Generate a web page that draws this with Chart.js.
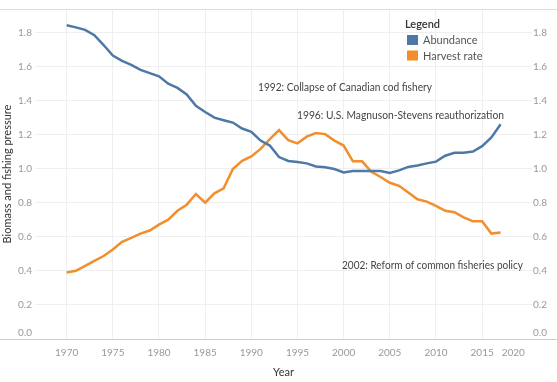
<!DOCTYPE html>
<html>
<head>
<meta charset="utf-8">
<script src="https://cdn.jsdelivr.net/npm/chart.js@4.4.1/dist/chart.umd.min.js"></script>
<style>
  html, body { margin: 0; padding: 0; background: #ffffff; }
  #wrap { width: 557px; height: 382px; position: relative; }
</style>
</head>
<body>
<div id="wrap"><canvas id="c" width="557" height="382"></canvas></div>
<script>
// ---- Data ----
const years = [1970,1971,1972,1973,1974,1975,1976,1977,1978,1979,
               1980,1981,1982,1983,1984,1985,1986,1987,1988,1989,
               1990,1991,1992,1993,1994,1995,1996,1997,1998,1999,
               2000,2001,2002,2003,2004,2005,2006,2007,2008,2009,
               2010,2011,2012,2013,2014,2015,2016,2017];
const abundance = [1.845,1.833,1.818,1.787,1.729,1.667,1.636,1.612,1.583,1.564,
                   1.545,1.502,1.477,1.438,1.372,1.335,1.302,1.287,1.273,1.238,
                   1.219,1.167,1.138,1.070,1.047,1.041,1.033,1.015,1.010,1.000,
                   0.980,0.988,0.988,0.988,0.988,0.977,0.992,1.012,1.021,1.033,
                   1.043,1.078,1.095,1.095,1.103,1.134,1.186,1.263];
const harvestRate = [0.391,0.401,0.430,0.459,0.488,0.527,0.572,0.595,0.620,0.638,
                     0.673,0.702,0.754,0.790,0.853,0.802,0.857,0.886,1.000,1.048,
                     1.074,1.118,1.176,1.229,1.170,1.151,1.190,1.211,1.205,1.167,
                     1.138,1.045,1.045,0.983,0.953,0.919,0.901,0.862,0.822,0.808,
                     0.783,0.754,0.746,0.715,0.692,0.692,0.620,0.626];
const xTickYears = [1970,1975,1980,1985,1990,1995,2000,2005,2010,2015,2020];
const yTickValues = [0,0.2,0.4,0.6,0.8,1.0,1.2,1.4,1.6,1.8];
const seriesNames = ['Abundance','Harvest rate'];
const legendTitle = 'Legend';
const xTitle = 'Year';
const yTitle = 'Biomass and fishing pressure';
const annotations = [
  '1992: Collapse of Canadian cod fishery',
  '1996: U.S. Magnuson-Stevens reauthorization',
  '2002: Reform of common fisheries policy'
];

// ---- Styles ----
const BLUE = '#4e79a7';
const ORANGE = '#f28e2b';
const FONT = 'Lato, "Open Sans", sans-serif';
const TICK_COLOR = '#999999';
const GRID_COLOR = '#efefef';

const toPoints = (vals) => vals.map((v, i) => ({ x: years[i], y: v }));

const decorPlugin = {
  id: 'decor',
  afterDraw(chart) {
    const ctx = chart.ctx;
    const W = chart.width;
    const area = chart.chartArea;
    ctx.save();
    // top border and bottom axis line across full width
    ctx.strokeStyle = '#dddddd';
    ctx.lineWidth = 1;
    ctx.beginPath();
    ctx.moveTo(0, Math.round(area.top) + 0.5);
    ctx.lineTo(W, Math.round(area.top) + 0.5);
    ctx.stroke();
    ctx.strokeStyle = '#cfcfcf';
    ctx.beginPath();
    ctx.moveTo(0, Math.round(area.bottom) + 0.5);
    ctx.lineTo(W, Math.round(area.bottom) + 0.5);
    ctx.stroke();

    // last x label (shifted left like the reference)
    const xs = chart.scales.x;
    ctx.fillStyle = TICK_COLOR;
    ctx.font = '10px ' + FONT;
    ctx.textAlign = 'center';
    ctx.textBaseline = 'middle';
    ctx.fillText(String(xTickYears[xTickYears.length - 1]), xs.getPixelForValue(2020) - 15, 353);

    // annotations
    ctx.fillStyle = '#444444';
    ctx.font = '11px ' + FONT;
    ctx.textAlign = 'left';
    ctx.textBaseline = 'middle';
    ctx.fillText(annotations[0], 258, 87.5, 174);
    ctx.fillText(annotations[1], 297, 115.5, 207);
    ctx.fillText(annotations[2], 342, 265, 181);

    // legend
    ctx.fillStyle = '#333333';
    ctx.font = '600 11px ' + FONT;
    ctx.fillText(legendTitle, 405, 24);
    ctx.fillStyle = BLUE;
    ctx.fillRect(407, 35, 11, 10);
    ctx.fillStyle = ORANGE;
    ctx.fillRect(407, 50.5, 11, 10);
    ctx.fillStyle = '#555555';
    ctx.font = '11px ' + FONT;
    ctx.fillText(seriesNames[0], 423, 40.5);
    ctx.fillText(seriesNames[1], 423, 56);
    ctx.restore();
  }
};

const yTickCallback = (v) => (v === 0 ? ['0.0', ''] : Number(v).toFixed(1));

new Chart(document.getElementById('c'), {
  type: 'line',
  data: {
    datasets: [
      {
        label: seriesNames[0],
        data: toPoints(abundance),
        borderColor: BLUE,
        backgroundColor: BLUE,
        borderWidth: 2.5,
        pointRadius: 0,
        tension: 0,
        yAxisID: 'y'
      },
      {
        label: seriesNames[1],
        data: toPoints(harvestRate),
        borderColor: ORANGE,
        backgroundColor: ORANGE,
        borderWidth: 2.5,
        pointRadius: 0,
        tension: 0,
        yAxisID: 'y'
      }
    ]
  },
  options: {
    responsive: false,
    animation: false,
    layout: { padding: { top: 5, left: 0, right: 0, bottom: 0 } },
    plugins: { legend: { display: false }, tooltip: { enabled: false } },
    scales: {
      x: {
        type: 'linear',
        min: 1966.57,
        max: 2020.4,
        afterBuildTicks: (s) => { s.ticks = xTickYears.map(v => ({ value: v })); },
        afterFit: (s) => { s.height = 43; },
        ticks: {
          autoSkip: false,
          maxRotation: 0,
          padding: 8,
          color: TICK_COLOR,
          font: { family: FONT, size: 10 },
          callback: (v) => (v === 2020 ? '' : String(v))
        },
        grid: {
          drawTicks: false,
          color: (ctx) => (ctx.tick && ctx.tick.value === 2020 ? 'rgba(0,0,0,0)' : GRID_COLOR)
        },
        border: { display: false },
        title: {
          display: true,
          text: xTitle,
          color: '#333333',
          font: { family: FONT, size: 11 },
          padding: { top: 0, bottom: 3 }
        }
      },
      y: {
        type: 'linear',
        position: 'left',
        min: 0,
        max: 1.941,
        afterBuildTicks: (s) => { s.ticks = yTickValues.map(v => ({ value: v })); },
        afterFit: (s) => { s.width = 35; },
        ticks: {
          padding: 3,
          color: TICK_COLOR,
          font: { family: FONT, size: 10 },
          callback: yTickCallback
        },
        grid: { drawTicks: false, color: GRID_COLOR },
        border: { display: false },
        title: {
          display: true,
          text: yTitle,
          color: '#333333',
          font: { family: FONT, size: 11 },
          padding: { top: 1, bottom: 0 }
        }
      },
      y2: {
        type: 'linear',
        position: 'right',
        min: 0,
        max: 1.941,
        afterBuildTicks: (s) => { s.ticks = yTickValues.map(v => ({ value: v })); },
        afterFit: (s) => { s.width = 25; },
        ticks: {
          padding: 1,
          color: TICK_COLOR,
          font: { family: FONT, size: 10 },
          callback: yTickCallback
        },
        grid: { display: false, drawTicks: false },
        border: { display: false }
      }
    }
  },
  plugins: [decorPlugin]
});
</script>
</body>
</html>
